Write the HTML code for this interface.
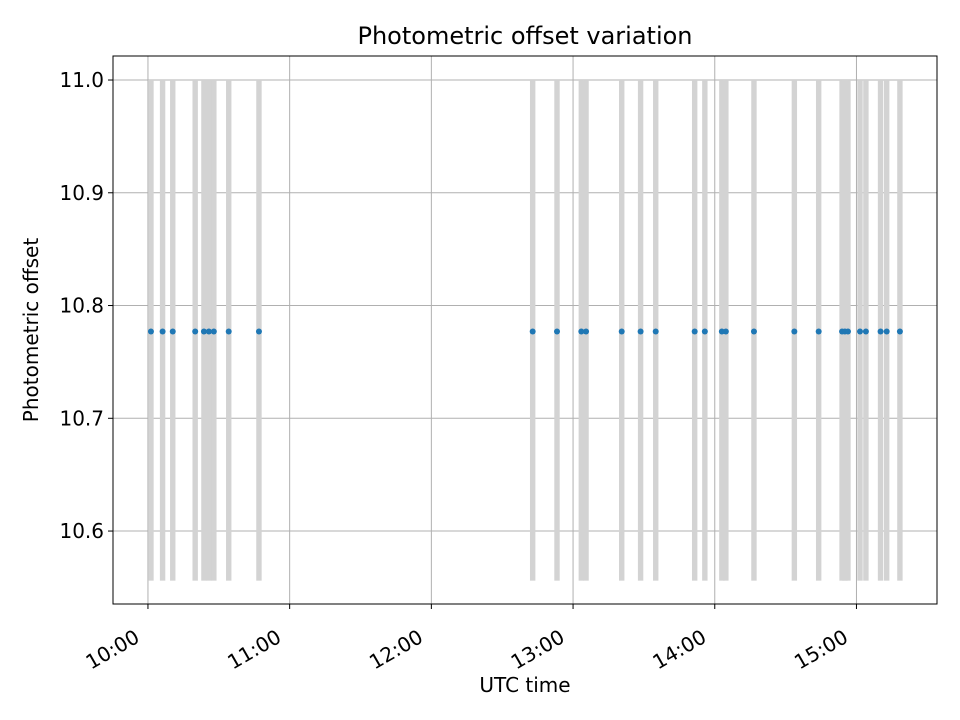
<!DOCTYPE html>
<html><head><meta charset="utf-8"><style>body{margin:0;background:#fff}svg{display:block;font-family:"DejaVu Sans","Liberation Sans",sans-serif}</style></head>
<body>
<svg id="chart" width="960" height="720" xmlns="http://www.w3.org/2000/svg">
<rect width="960" height="720" fill="#fff"/>
<text x="525" y="44" font-size="24" text-anchor="middle">Photometric offset variation</text>
<g id="grid"></g><g id="bars"></g><g id="pts"></g>
<rect x="113" y="56" width="824" height="548" fill="none" stroke="#000" stroke-width="1"/>
<g id="axes"></g>
<text x="525" y="692" font-size="20" text-anchor="middle">UTC time</text>
<text transform="translate(38,330) rotate(-90)" font-size="20" text-anchor="middle">Photometric offset</text>
</svg>
<script>
const timesMin=[1.27,6.2,10.5,20.0,23.7,25.8,27.9,34.2,47.0,162.9,173.2,183.5,185.5,200.6,208.6,215.0,231.5,235.8,243.0,244.7,256.6,273.7,284.0,293.9,295.1,296.4,301.5,304.0,310.2,312.8,318.4];
const offsets=timesMin.map(()=>10.777);
const barTop=11.0, barBottom=10.556;
const xTickMin=[0,60,120,180,240,300];
const xTickLabels=["10:00","11:00","12:00","13:00","14:00","15:00"];
const yTicks=[10.6,10.7,10.8,10.9,11.0];
const yTickLabels=["10.6","10.7","10.8","10.9","11.0"];
const X0=113,X1=937,Y0=604,Y1=56,xmin=-14.8,xmax=334.1,ymin=10.5353,ymax=11.0213;
const sx=v=>X0+(v-xmin)/(xmax-xmin)*(X1-X0);
const sy=v=>Y0-(v-ymin)/(ymax-ymin)*(Y0-Y1);
const NS="http://www.w3.org/2000/svg";
function mk(p,t,a){const e=document.createElementNS(NS,t);for(const k in a)e.setAttribute(k,a[k]);document.getElementById(p).appendChild(e);return e;}
xTickMin.forEach((m,i)=>{const x=sx(m);
 let g=mk('grid','line',{x1:x,x2:x,y1:Y1,y2:Y0,stroke:'#b0b0b0','stroke-width':1});
 
 let t=mk('axes','line',{x1:x,x2:x,y1:Y0,y2:Y0+5,stroke:'#000'});
 
 let l=mk('axes','text',{x:0,y:0,'font-size':20,'text-anchor':'end',transform:`translate(${x-7},${Y0+37}) rotate(-30)`});
 l.textContent=xTickLabels[i];});
yTicks.forEach((v,i)=>{const y=sy(v);
 let g=mk('grid','line',{x1:X0,x2:X1,y1:y,y2:y,stroke:'#b0b0b0','stroke-width':1});
 
 let t=mk('axes','line',{x1:X0-5,x2:X0,y1:y,y2:y,stroke:'#000'});
 
 let l=mk('axes','text',{x:X0-9,y:y+7,'font-size':20,'text-anchor':'end'});
 l.textContent=yTickLabels[i];});
timesMin.forEach((m,i)=>{const x=sx(m);
 let b=mk('bars','rect',{x:x-2.7,y:sy(barTop),width:5.4,height:sy(barBottom)-sy(barTop),fill:'#d3d3d3'});
 
 let c=mk('pts','circle',{cx:x,cy:sy(offsets[i]),r:3,fill:'#1f77b4'});
 });
</script>
</body></html>
